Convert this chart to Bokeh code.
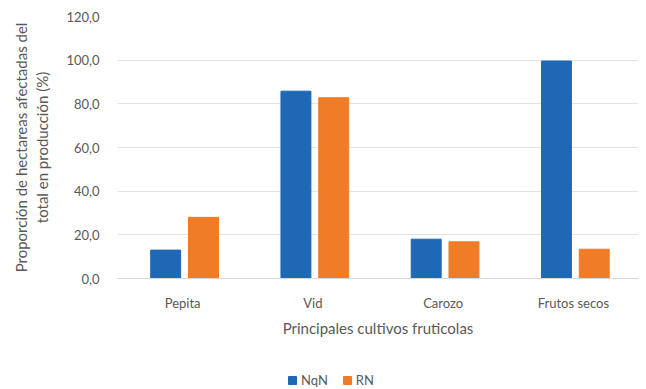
from bokeh.plotting import figure
from bokeh.layouts import column
from bokeh.models import ColumnDataSource, FixedTicker, Legend, LegendItem, Range1d, FactorRange
from bokeh.transform import dodge
from bokeh.embed import file_html
from bokeh.resources import INLINE

cultivos = ["Pepita", "Vid", "Carozo", "Frutos secos"]
nqn = [13.0, 85.8, 18.0, 99.6]
rn = [28.0, 82.8, 16.8, 13.4]
series = ["NqN", "RN"]
y_ticks = [0, 20, 40, 60, 80, 100, 120]
y_tick_labels = ["0,0", "20,0", "40,0", "60,0", "80,0", "100,0", "120,0"]

BLUE = "#1f68b6"
ORANGE = "#f07c28"
GREY = "#595959"
FONT = "Lato"

src = ColumnDataSource(dict(cultivo=cultivos, nqn=nqn, rn=rn))

# main bar chart
p = figure(
    x_range=FactorRange(*cultivos, range_padding=0),
    y_range=Range1d(0, 120),
    width=646, height=352,
    min_border_left=117, min_border_right=8, min_border_top=16, min_border_bottom=74,
    output_backend="svg", toolbar_location=None,
)
p.outline_line_color = None

p.vbar(x=dodge("cultivo", -0.13, range=p.x_range), top="nqn", width=0.23,
       source=src, color=BLUE)
p.vbar(x=dodge("cultivo", 0.16, range=p.x_range), top="rn", width=0.23,
       source=src, color=ORANGE)

p.yaxis.ticker = FixedTicker(ticks=y_ticks)
p.yaxis.major_label_overrides = dict(zip(y_ticks, y_tick_labels))
p.yaxis.axis_line_color = None
p.yaxis.major_tick_line_color = None
p.yaxis.minor_tick_line_color = None
p.yaxis.major_label_standoff = 12
p.yaxis.axis_label = "Proporción de hectareas afectadas del\ntotal en producción (%)"
p.yaxis.axis_label_standoff = 12

p.xaxis.axis_line_color = "#d9d9d9"
p.xaxis.major_tick_line_color = None
p.xaxis.minor_tick_line_color = None
p.xaxis.major_label_standoff = 10
p.xaxis.axis_label = "Principales cultivos fruticolas"
p.xaxis.axis_label_standoff = 5

for ax in (p.xaxis, p.yaxis):
    ax.major_label_text_font = FONT
    ax.major_label_text_font_size = "13px"
    ax.major_label_text_color = GREY
    ax.axis_label_text_font = FONT
    ax.axis_label_text_font_size = "15px"
    ax.axis_label_text_font_style = "normal"
    ax.axis_label_text_color = GREY

p.xgrid.grid_line_color = None
p.ygrid.grid_line_color = "#e3e3e3"

# legend strip underneath (its swatch renderers sit outside the visible range)
lg = figure(width=646, height=37, x_range=Range1d(0, 646), y_range=Range1d(0, 37),
            min_border_left=0, min_border_right=0, min_border_top=0, min_border_bottom=0,
            output_backend="svg", toolbar_location=None)
lg.xaxis.visible = False
lg.yaxis.visible = False
lg.grid.visible = False
lg.outline_line_color = None
r1 = lg.vbar(x=[-100], top=[-100], width=1, color=BLUE)
r2 = lg.vbar(x=[-100], top=[-100], width=1, color=ORANGE)
legend = Legend(items=[LegendItem(label=series[0], renderers=[r1]),
                       LegendItem(label=series[1], renderers=[r2])],
                orientation="horizontal", location=(170, 1),
                label_text_font=FONT, label_text_font_size="13px",
                label_text_color=GREY, glyph_width=10, glyph_height=10,
                spacing=14, label_standoff=4, border_line_color=None,
                background_fill_alpha=0, margin=0, padding=0, label_height=14)
lg.add_layout(legend, "center")

layout = column(p, lg, spacing=0)
open("out.html", "w").write(file_html(layout, INLINE))
